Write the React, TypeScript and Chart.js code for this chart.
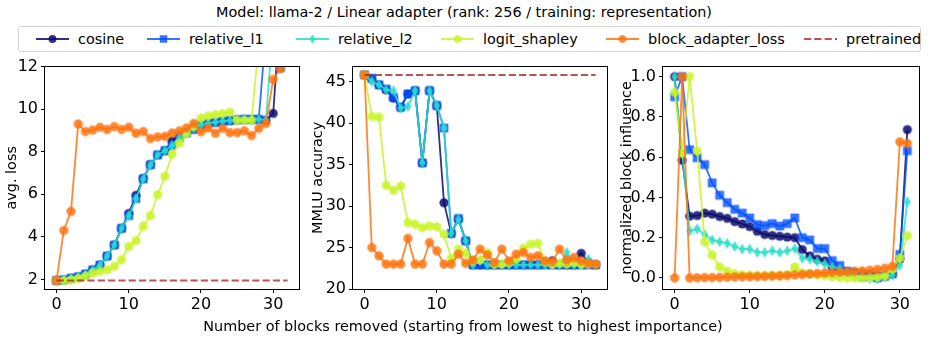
import React, { useEffect, useRef } from "react";
import { Chart, registerables } from "chart.js";

Chart.register(...registerables);

// ---------- data ----------
const BLOCKS = [0, 1, 2, 3, 4, 5, 6, 7, 8, 9, 10, 11, 12, 13, 14, 15, 16, 17, 18, 19, 20, 21, 22, 23, 24, 25, 26, 27, 28, 29, 30, 31, 32];
const INFL_BLOCKS = [0, 1, 2, 3, 4, 5, 6, 7, 8, 9, 10, 11, 12, 13, 14, 15, 16, 17, 18, 19, 20, 21, 22, 23, 24, 25, 26, 27, 28, 29, 30, 31];

const PRETRAINED_LOSS = 1.95;
const PRETRAINED_MMLU = 45.8;

const LOSS_COSINE = [1.95, 1.98, 2.05, 2.12, 2.25, 2.45, 2.68, 3.1, 3.62, 4.4, 5.1, 5.95, 6.75, 7.4, 7.85, 8.05, 8.5, 8.7, 8.9, 9.05, 9.25, 9.33, 9.38, 9.43, 9.46, 9.5, 9.52, 9.52, 9.52, 9.48, 9.8, 14.7, 16];
const LOSS_L1 = [1.95, 1.98, 2.05, 2.12, 2.25, 2.45, 2.68, 3.1, 3.62, 4.4, 5.0, 5.8, 6.72, 7.38, 7.85, 8.05, 8.3, 8.67, 8.88, 9.08, 9.27, 9.34, 9.39, 9.44, 9.47, 9.5, 9.52, 9.52, 9.52, 13.7, 15, 11.95, 16];
const LOSS_L2 = [1.95, 1.98, 2.05, 2.12, 2.25, 2.45, 2.68, 3.1, 3.62, 4.4, 5.0, 5.8, 6.72, 7.38, 7.85, 8.05, 8.3, 8.67, 8.88, 9.08, 9.27, 9.34, 9.39, 9.44, 9.47, 9.5, 9.52, 9.52, 9.52, 9.5, 14, 15, 16];
const LOSS_LOGIT = [1.95, 1.95, 1.98, 2.05, 2.15, 2.3, 2.38, 2.46, 2.62, 2.93, 3.55, 3.82, 4.5, 5.0, 5.98, 6.85, 7.88, 8.4, 8.85, 9.2, 9.58, 9.68, 9.74, 9.79, 9.86, 9.48, 9.48, 9.48, 13.1, 15, 16, 16, 16];
const LOSS_BAL = [1.95, 4.3, 5.2, 9.3, 8.95, 9.02, 9.15, 9.05, 9.18, 9.05, 9.15, 8.87, 8.95, 8.62, 8.7, 8.72, 8.88, 8.98, 9.12, 9.33, 8.94, 9.12, 8.87, 9.1, 8.9, 8.9, 8.98, 8.76, 9.1, 9.33, 11.4, 11.9, 16];

const MMLU_COSINE = [45.8, 45.3, 44.6, 44.0, 43.0, 41.9, 43.5, 43.9, 35.2, 43.9, 42.1, 30.4, 26.7, 28.4, 25.8, 22.9, 22.9, 22.9, 22.9, 22.9, 22.9, 22.9, 22.9, 22.9, 22.9, 23.0, 23.4, 22.9, 22.9, 22.9, 24.3, 23.2, 22.9];
const MMLU_L1 = [45.8, 45.4, 44.6, 44.1, 43.1, 41.9, 43.5, 43.9, 35.2, 43.9, 42.1, 39.4, 26.7, 28.5, 25.8, 22.9, 22.9, 22.9, 22.9, 22.9, 22.9, 22.9, 22.9, 22.9, 22.9, 22.9, 22.9, 22.9, 22.9, 22.9, 22.9, 22.9, 22.9];
const MMLU_L2 = [45.8, 45.0, 44.6, 44.0, 43.9, 41.8, 42.0, 43.9, 35.2, 43.9, 42.1, 39.4, 26.7, 28.4, 25.8, 22.9, 23.4, 22.9, 22.9, 22.9, 22.9, 22.9, 22.9, 22.9, 22.9, 22.9, 22.9, 22.9, 24.4, 22.9, 22.9, 23.6, 22.9];
const MMLU_LOGIT = [45.8, 40.8, 40.7, 32.5, 31.9, 32.4, 28.0, 27.8, 27.4, 27.6, 27.5, 26.6, 23.7, 24.8, 24.3, 23.4, 23.5, 24.4, 23.0, 23.0, 23.2, 23.6, 24.9, 25.4, 25.5, 23.3, 23.0, 23.1, 23.0, 23.2, 23.0, 23.0, 23.0];
const MMLU_BAL = [45.8, 25.0, 24.0, 23.0, 23.0, 23.0, 26.1, 23.0, 23.0, 25.6, 24.6, 23.0, 23.0, 24.2, 23.1, 23.5, 24.8, 24.1, 23.2, 24.8, 23.4, 24.2, 24.4, 23.8, 24.0, 23.4, 23.3, 24.8, 23.5, 23.8, 23.4, 23.1, 23.0];

const INF_COSINE = [1.0, 0.585, 0.307, 0.31, 0.322, 0.317, 0.305, 0.296, 0.28, 0.268, 0.255, 0.232, 0.216, 0.211, 0.207, 0.203, 0.2, 0.141, 0.109, 0.093, 0.085, 0.052, 0.037, 0.031, 0.028, 0.021, 0.016, 0.012, 0.01, 0.02, 0.093, 0.737];
const INF_L1 = [0.9, 1.0, 0.637, 0.597, 0.563, 0.472, 0.411, 0.374, 0.341, 0.322, 0.298, 0.265, 0.26, 0.27, 0.258, 0.27, 0.298, 0.2, 0.189, 0.146, 0.146, 0.086, 0.062, 0.033, 0.021, 0.005, 0.008, 0.0, 0.008, 0.02, 0.117, 0.632];
const INF_L2 = [1.0, 0.62, 0.233, 0.244, 0.216, 0.189, 0.179, 0.172, 0.156, 0.143, 0.143, 0.127, 0.127, 0.135, 0.127, 0.135, 0.146, 0.098, 0.094, 0.081, 0.07, 0.054, 0.046, 0.026, 0.013, 0.005, -0.003, -0.006, 0.005, 0.013, 0.062, 0.379];
const INF_LOGIT = [0.922, 0.62, 1.0, 0.63, 0.179, 0.114, 0.054, 0.033, 0.021, 0.016, 0.014, 0.013, 0.013, 0.014, 0.015, 0.016, 0.054, 0.026, 0.02, 0.015, 0.011, 0.006, 0.003, 0.0, 0.0, 0.0, 0.002, 0.005, 0.01, 0.044, 0.098, 0.21];
const INF_BAL = [0.0, 1.0, 0.0, 0.001, 0.002, 0.002, 0.003, 0.004, 0.005, 0.006, 0.006, 0.007, 0.008, 0.009, 0.01, 0.012, 0.015, 0.017, 0.02, 0.022, 0.025, 0.027, 0.029, 0.031, 0.033, 0.035, 0.038, 0.042, 0.048, 0.058, 0.676, 0.668];

const X_TICKS = [0, 10, 20, 30];
const LOSS_TICKS = [2, 4, 6, 8, 10, 12];
const MMLU_TICKS = [20, 25, 30, 35, 40, 45];
const INF_TICKS = [0, 0.2, 0.4, 0.6, 0.8, 1.0];

const TITLE = "Model: llama-2 / Linear adapter (rank: 256 / training: representation)";
const X_LABEL = "Number of blocks removed (starting from lowest to highest importance)";

// ---------- styles ----------
const FONT = "'DejaVu Sans', sans-serif";
const FS = 14.4;
const TICK_FS = 16;

type Shape = "circle" | "square" | "thin_diamond" | "hexagon" | "octagon" | null;

const S_COSINE = { label: "cosine", color: "rgba(10,10,110,0.85)", marker: "circle" as Shape };
const S_L1 = { label: "relative_l1", color: "rgba(0,80,255,0.8)", marker: "square" as Shape };
const S_L2 = { label: "relative_l2", color: "rgba(40,225,200,0.85)", marker: "thin_diamond" as Shape };
const S_LOGIT = { label: "logit_shapley", color: "rgba(200,245,40,0.85)", marker: "hexagon" as Shape };
const S_BAL = { label: "block_adapter_loss", color: "rgba(255,115,15,0.85)", marker: "octagon" as Shape };
const S_PRE = { label: "pretrained", color: "rgba(165,42,42,0.8)", marker: null as Shape, dash: [7.2, 3.1] };

function shapePath(ctx: CanvasRenderingContext2D, shape: Shape, cx: number, cy: number, k = 1) {
  ctx.beginPath();
  if (shape === "circle") {
    ctx.arc(cx, cy, 4.6 * k, 0, Math.PI * 2);
  } else if (shape === "square") {
    ctx.rect(cx - 4.4 * k, cy - 4.4 * k, 8.8 * k, 8.8 * k);
  } else if (shape === "thin_diamond") {
    ctx.moveTo(cx, cy - 5.6 * k);
    ctx.lineTo(cx + 3.5 * k, cy);
    ctx.lineTo(cx, cy + 5.6 * k);
    ctx.lineTo(cx - 3.5 * k, cy);
    ctx.closePath();
  } else if (shape === "hexagon" || shape === "octagon") {
    const n = shape === "hexagon" ? 6 : 8;
    const r = (shape === "hexagon" ? 5.0 : 4.8) * k;
    const off = shape === "hexagon" ? -Math.PI / 2 : Math.PI / 8;
    for (let j = 0; j < n; j++) {
      const a = off + (j * 2 * Math.PI) / n;
      const px = cx + r * Math.cos(a);
      const py = cy + r * Math.sin(a);
      if (j === 0) ctx.moveTo(px, py);
      else ctx.lineTo(px, py);
    }
    ctx.closePath();
  }
}

function markerCanvas(shape: Shape, color: string): HTMLCanvasElement {
  const c = document.createElement("canvas");
  c.width = 14;
  c.height = 14;
  const ctx = c.getContext("2d")!;
  ctx.fillStyle = color;
  shapePath(ctx, shape, 7, 7);
  ctx.fill();
  return c;
}

const framePlugin = {
  id: "frame",
  afterDraw(chart: any) {
    const { ctx, chartArea: a } = chart;
    ctx.save();
    ctx.strokeStyle = "#000";
    ctx.lineWidth = 1;
    const l = Math.round(a.left) - 0.5;
    const t = Math.round(a.top) - 0.5;
    const r = Math.round(a.right) + 0.5;
    const b = Math.round(a.bottom) + 0.5;
    ctx.strokeRect(l, t, r - l, b - t);
    ctx.restore();
  },
};

type SeriesDef = { label: string; color: string; marker: Shape; dash?: number[] };

type PanelSpec = {
  xs: number[];
  series: { def: SeriesDef; values: number[] }[];
  pretrained?: number;
  xMin: number;
  xMax: number;
  yMin: number;
  yMax: number;
  yTicks: number[];
  yFmt: (v: number) => string;
  yTitle: string;
  yWidth: number;
  padRight: number;
};

function makeChart(canvas: HTMLCanvasElement, spec: PanelSpec) {
  const datasets: any[] = spec.series.map((s, k) => ({
    label: s.def.label,
    data: spec.xs.map((x, i) => ({ x, y: s.values[i] })),
    borderColor: s.def.color,
    backgroundColor: s.def.color,
    borderWidth: 1.8,
    pointStyle: markerCanvas(s.def.marker, s.def.color),
    pointRadius: 5,
    pointHoverRadius: 5,
    tension: 0,
    order: 10 - k,
  }));
  if (spec.pretrained !== undefined) {
    datasets.push({
      label: S_PRE.label,
      data: [
        { x: spec.xs[0], y: spec.pretrained },
        { x: spec.xs[spec.xs.length - 1], y: spec.pretrained },
      ],
      borderColor: S_PRE.color,
      borderWidth: 2,
      borderDash: S_PRE.dash,
      pointRadius: 0,
      tension: 0,
      order: 0,
    });
  }
  const tickFont = { family: FONT, size: TICK_FS };
  const grid = {
    display: true,
    drawOnChartArea: false,
    drawTicks: true,
    tickLength: 4,
    tickWidth: 1,
    tickColor: "#000",
  };
  return new Chart(canvas, {
    type: "line",
    data: { datasets },
    options: {
      responsive: false,
      animation: false,
      devicePixelRatio: 1,
      layout: { padding: { top: 10, right: spec.padRight, left: 0, bottom: 0 } },
      plugins: { legend: { display: false }, tooltip: { enabled: false } },
      events: [],
      scales: {
        x: {
          type: "linear",
          min: spec.xMin,
          max: spec.xMax,
          grid,
          border: { display: false },
          ticks: { font: tickFont, color: "#000", padding: 2, maxRotation: 0, autoSkip: false },
          afterBuildTicks: (sc: any) => {
            sc.ticks = X_TICKS.map((v) => ({ value: v }));
          },
          afterFit: (sc: any) => {
            sc.height = 31;
          },
        },
        y: {
          type: "linear",
          min: spec.yMin,
          max: spec.yMax,
          grid,
          border: { display: false },
          ticks: {
            font: tickFont,
            color: "#000",
            padding: 3,
            autoSkip: false,
            callback: (v: any) => spec.yFmt(Number(v)),
          },
          title: {
            display: true,
            text: spec.yTitle,
            color: "#000",
            font: { family: FONT, size: FS },
            padding: { top: 4, bottom: 4 },
          },
          afterBuildTicks: (sc: any) => {
            sc.ticks = spec.yTicks.map((v) => ({ value: v }));
          },
          afterFit: (sc: any) => {
            sc.width = spec.yWidth;
          },
        },
      },
    } as any,
    plugins: [framePlugin],
  });
}

const SERIES_ORDER: SeriesDef[] = [S_COSINE, S_L1, S_L2, S_LOGIT, S_BAL];

const PANEL_LOSS: PanelSpec = {
  xs: BLOCKS,
  series: [
    { def: S_COSINE, values: LOSS_COSINE },
    { def: S_L1, values: LOSS_L1 },
    { def: S_L2, values: LOSS_L2 },
    { def: S_LOGIT, values: LOSS_LOGIT },
    { def: S_BAL, values: LOSS_BAL },
  ],
  pretrained: PRETRAINED_LOSS,
  xMin: -1.6,
  xMax: 33.6,
  yMin: 1.55,
  yMax: 12,
  yTicks: LOSS_TICKS,
  yFmt: (v) => String(Math.round(v)),
  yTitle: "avg. loss",
  yWidth: 45,
  padRight: 4,
};

const PANEL_MMLU: PanelSpec = {
  xs: BLOCKS,
  series: [
    { def: S_COSINE, values: MMLU_COSINE },
    { def: S_L1, values: MMLU_L1 },
    { def: S_L2, values: MMLU_L2 },
    { def: S_LOGIT, values: MMLU_LOGIT },
    { def: S_BAL, values: MMLU_BAL },
  ],
  pretrained: PRETRAINED_MMLU,
  xMin: -1.6,
  xMax: 33.6,
  yMin: 20,
  yMax: 46.8,
  yTicks: MMLU_TICKS,
  yFmt: (v) => String(Math.round(v)),
  yTitle: "MMLU accuracy",
  yWidth: 47,
  padRight: 3,
};

const PANEL_INF: PanelSpec = {
  xs: INFL_BLOCKS,
  series: [
    { def: S_COSINE, values: INF_COSINE },
    { def: S_L1, values: INF_L1 },
    { def: S_L2, values: INF_L2 },
    { def: S_LOGIT, values: INF_LOGIT },
    { def: S_BAL, values: INF_BAL },
  ],
  xMin: -1.55,
  xMax: 32.55,
  yMin: -0.055,
  yMax: 1.05,
  yTicks: INF_TICKS,
  yFmt: (v) => v.toFixed(1),
  yTitle: "normalized block influence",
  yWidth: 48,
  padRight: 11,
};

const LEGEND_X = [36, 147, 296, 441, 606, 804];

function LegendGlyph({ def }: { def: SeriesDef }) {
  const ref = useRef<HTMLCanvasElement>(null);
  useEffect(() => {
    const c = ref.current!;
    const ctx = c.getContext("2d")!;
    ctx.clearRect(0, 0, c.width, c.height);
    ctx.strokeStyle = def.color;
    ctx.lineWidth = def.dash ? 2 : 1.8;
    if (def.dash) ctx.setLineDash(def.dash);
    ctx.beginPath();
    ctx.moveTo(0, 8);
    ctx.lineTo(33, 8);
    ctx.stroke();
    if (def.marker) {
      ctx.fillStyle = def.color;
      shapePath(ctx, def.marker, 16.5, 8, 0.85);
      ctx.fill();
    }
  }, [def]);
  return <canvas ref={ref} width={33} height={16} style={{ display: "block" }} />;
}

export default function App() {
  const r1 = useRef<HTMLCanvasElement>(null);
  const r2 = useRef<HTMLCanvasElement>(null);
  const r3 = useRef<HTMLCanvasElement>(null);

  useEffect(() => {
    const charts = [
      makeChart(r1.current!, PANEL_LOSS),
      makeChart(r2.current!, PANEL_MMLU),
      makeChart(r3.current!, PANEL_INF),
    ];
    return () => charts.forEach((c) => c.destroy());
  }, []);

  const legendDefs: SeriesDef[] = [...SERIES_ORDER, S_PRE];
  const text: React.CSSProperties = { fontFamily: FONT, fontSize: FS, color: "#000", whiteSpace: "nowrap" };

  return (
    <div style={{ position: "absolute", left: 0, top: 0, width: 934, height: 341, background: "#fff", overflow: "hidden" }}>
      <div style={{ ...text, position: "absolute", left: 164, width: 600, top: 3, lineHeight: "18px", textAlign: "center" }}>{TITLE}</div>
      <div
        style={{
          position: "absolute",
          left: 18,
          top: 26,
          width: 903,
          height: 26,
          boxSizing: "border-box",
          border: "1px solid #d5d5d5",
          borderRadius: 3,
          background: "#fff",
        }}
      />
      {legendDefs.map((d, i) => (
        <div key={d.label} style={{ position: "absolute", left: LEGEND_X[i], top: 31, height: 16, display: "flex", alignItems: "center" }}>
          <LegendGlyph def={d} />
          <span style={{ ...text, marginLeft: 9, lineHeight: "16px" }}>{d.label}</span>
        </div>
      ))}
      <canvas ref={r1} width={306} height={266} style={{ position: "absolute", left: 0, top: 54 }} />
      <canvas ref={r2} width={308} height={266} style={{ position: "absolute", left: 306, top: 54 }} />
      <canvas ref={r3} width={315} height={266} style={{ position: "absolute", left: 615, top: 54 }} />
      <div style={{ ...text, position: "absolute", left: 163, width: 600, top: 317, lineHeight: "18px", textAlign: "center" }}>{X_LABEL}</div>
    </div>
  );
}
